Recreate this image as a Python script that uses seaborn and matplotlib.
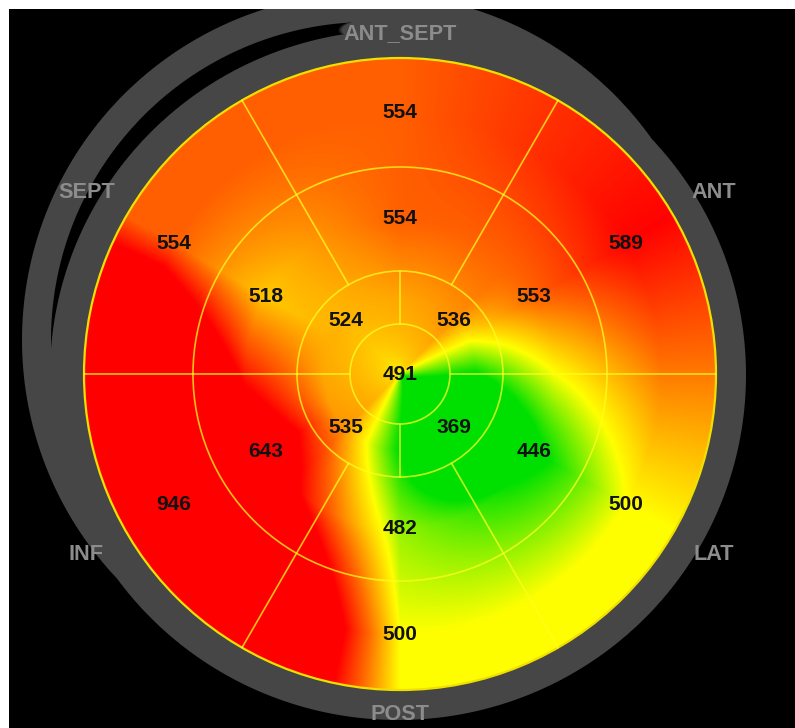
import numpy as np
import matplotlib
matplotlib.use("Agg")
import matplotlib.pyplot as plt
from matplotlib.patches import Circle
from matplotlib.colors import LinearSegmentedColormap, Normalize, to_rgb
import seaborn as sns

# ── Data ──────────────────────────────────────────────────────────────────────
REGIONS = ["ANT_SEPT", "ANT", "LAT", "POST", "INF", "SEPT"]
REGION_ANGLES = [90, 30, -30, -90, -150, 150]      # degrees, ccw from +x
BASAL = [554, 589, 500, 500, 946, 554]
MID = [554, 553, 446, 482, 643, 518]
APICAL_ANGLES = [135, 45, -45, -135]
APICAL = [524, 536, 369, 535]
APEX = 491

# ── Geometry (pixel units, centre of bullseye at 0,0) ─────────────────────────
R_APEX, R_APICAL, R_MID, R_OUT = 50, 103, 207, 316
R_TXT = {"apical": 76, "mid": 155, "basal": 261}
LABEL_R = [340, 362, 362, 340, 362, 362]
XLIM, YLIM = (-391, 395), (-354, 365)

GRAY = "#464646"
LINE = "#ffff20"

sns.set_style("dark", {"axes.facecolor": "black"})
plt.rcParams["font.family"] = ["Liberation Sans", "DejaVu Sans"]

fig = plt.figure(figsize=(7.95, 7.28), dpi=100, facecolor="white")
ax = fig.add_axes([9 / 795, 0, 786 / 795, 719 / 728])
ax.set_facecolor("black")
ax.set_xticks([])
ax.set_yticks([])
for s in ax.spines.values():
    s.set_visible(False)

# ── Grey frame: main ring + offset ghost copy, black gap only at top-left ─────
fx = np.arange(XLIM[0], XLIM[1]) + 0.5
fy = np.arange(YLIM[0], YLIM[1]) + 0.5
FX, FY = np.meshgrid(fx, fy)

d2 = np.hypot(FX + 31, FY - 34)
ghost_outer = np.clip(0.5 + (347 - d2), 0, 1)
ghost_inner = np.clip(0.5 + (318 - d2), 0, 1)
q = np.sqrt(((FX + 2) / 348) ** 2 + ((FY + 1) / 345) ** 2)
main = np.clip(0.5 + (1 - q) * 346, 0, 1)
qt = np.sqrt(((FX - 10) / 70) ** 2 + ((FY - 344) / 15) ** 2)
tab = np.clip(0.5 + (1 - qt) * 15, 0, 1)
side = np.clip((20 - FX) / 10, 0, 1) * (FY > -40)

gap = ghost_inner * (1 - main) * side
alpha = np.maximum(np.maximum(ghost_outer, main) * (1 - gap), tab)

frame = np.zeros(alpha.shape + (4,))
frame[..., :3] = to_rgb(GRAY)
frame[..., 3] = alpha
ax.imshow(frame, extent=(*XLIM, *YLIM), origin="lower",
          interpolation="nearest", zorder=1)

# ── Smooth colour field built from the segment values ─────────────────────────
n = 700
xs = np.linspace(-R_OUT, R_OUT, n)
X, Y = np.meshgrid(xs, xs)
rr = np.hypot(X, Y)
th = np.degrees(np.arctan2(Y, X))

fa = np.interp(th, APICAL_ANGLES, APICAL, period=360)
fm = np.interp(th, REGION_ANGLES, MID, period=360)
fb = np.interp(th, REGION_ANGLES, BASAL, period=360)

ra, rm, rb = R_TXT["apical"], R_TXT["mid"], R_TXT["basal"]
v = np.where(
    rr < ra, APEX + (fa - APEX) * (rr / ra) ** 0.3,
    np.where(rr < rm, fa + (fm - fa) * (rr - ra) / (rm - ra),
             np.where(rr < rb, fm + (fb - fm) * (rr - rm) / (rb - rm), fb)))

cmap = LinearSegmentedColormap.from_list(
    "bullseye",
    [(0.0, "#00e000"), (0.333, "#ffff00"), (0.704, "#ff6a00"), (1.0, "#ff0000")])
norm = Normalize(455, 590, clip=True)

im = ax.imshow(v, extent=(-R_OUT, R_OUT, -R_OUT, R_OUT), origin="lower",
               cmap=cmap, norm=norm, interpolation="bilinear", zorder=2)
im.set_clip_path(Circle((0, 0), R_OUT, transform=ax.transData))

# ── Segment borders ───────────────────────────────────────────────────────────
for r in (R_APEX, R_APICAL, R_MID):
    ax.add_patch(Circle((0, 0), r, fill=False, ec=LINE, lw=1.2, alpha=0.75, zorder=3))
ax.add_patch(Circle((0, 0), R_OUT, fill=False, ec="#f0e000", lw=1.6, zorder=3))

for a in [0, 60, 120, 180, 240, 300]:
    c, s = np.cos(np.radians(a)), np.sin(np.radians(a))
    ax.plot([R_APICAL * c, R_OUT * c], [R_APICAL * s, R_OUT * s],
            color=LINE, lw=1.2, alpha=0.75, zorder=3)
for a in [0, 90, 180, 270]:
    c, s = np.cos(np.radians(a)), np.sin(np.radians(a))
    ax.plot([R_APEX * c, R_APICAL * c], [R_APEX * s, R_APICAL * s],
            color=LINE, lw=1.2, alpha=0.75, zorder=3)

# ── Value labels ──────────────────────────────────────────────────────────────
txt = dict(ha="center", va="center", fontsize=15, fontweight="bold",
           color="#111111", zorder=5)


def put(angle, r, val):
    t = np.radians(angle)
    ax.text(r * np.cos(t), r * np.sin(t), f"{val}", **txt)


for ang, b, m in zip(REGION_ANGLES, BASAL, MID):
    put(ang, R_TXT["basal"], b)
    put(ang, R_TXT["mid"], m)
for ang, a in zip(APICAL_ANGLES, APICAL):
    put(ang, R_TXT["apical"], a)
put(0, 0, APEX)

# region names on the grey frame
for name, ang, r in zip(REGIONS, REGION_ANGLES, LABEL_R):
    t = np.radians(ang)
    ax.text(r * np.cos(t), r * np.sin(t), name, ha="center", va="center",
            fontsize=15.6, fontweight="bold", color="#8c8c8c", zorder=5)

ax.set_xlim(*XLIM)
ax.set_ylim(*YLIM)
ax.set_aspect("auto")

fig.savefig("out.png", dpi=100, facecolor="white")
